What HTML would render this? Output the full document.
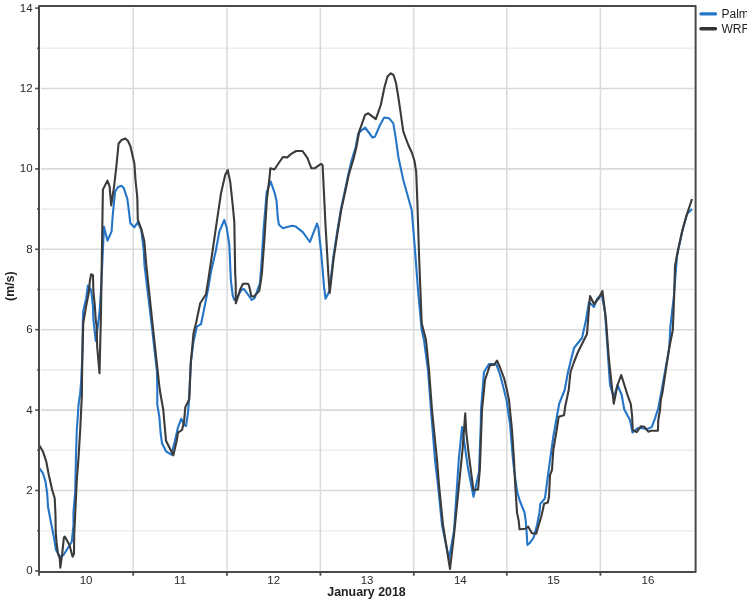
<!DOCTYPE html>
<html><head><meta charset="utf-8"><style>
html,body{margin:0;padding:0;background:#fff;width:747px;height:600px;overflow:hidden}
svg{display:block;filter:blur(0.3px)}
.lbl{font-family:"Liberation Sans",sans-serif;font-size:11.5px;fill:#2a2a2a}
.ttl{font-family:"Liberation Sans",sans-serif;font-size:12.4px;font-weight:bold;fill:#1f1f1f}
.leg{font-family:"Liberation Sans",sans-serif;font-size:12px;fill:#1f1f1f}
</style></head><body>
<svg width="747" height="600" viewBox="0 0 747 600">
<line x1="41" y1="530.70" x2="694.10" y2="530.70" stroke="#ededed" stroke-width="1.6"/>
<line x1="41" y1="490.50" x2="694.10" y2="490.50" stroke="#d9d9d9" stroke-width="1.6"/>
<line x1="41" y1="450.30" x2="694.10" y2="450.30" stroke="#ededed" stroke-width="1.6"/>
<line x1="41" y1="410.10" x2="694.10" y2="410.10" stroke="#d9d9d9" stroke-width="1.6"/>
<line x1="41" y1="369.90" x2="694.10" y2="369.90" stroke="#ededed" stroke-width="1.6"/>
<line x1="41" y1="329.70" x2="694.10" y2="329.70" stroke="#d9d9d9" stroke-width="1.6"/>
<line x1="41" y1="289.50" x2="694.10" y2="289.50" stroke="#ededed" stroke-width="1.6"/>
<line x1="41" y1="249.30" x2="694.10" y2="249.30" stroke="#d9d9d9" stroke-width="1.6"/>
<line x1="41" y1="209.10" x2="694.10" y2="209.10" stroke="#ededed" stroke-width="1.6"/>
<line x1="41" y1="168.90" x2="694.10" y2="168.90" stroke="#d9d9d9" stroke-width="1.6"/>
<line x1="41" y1="128.70" x2="694.10" y2="128.70" stroke="#ededed" stroke-width="1.6"/>
<line x1="41" y1="88.50" x2="694.10" y2="88.50" stroke="#d9d9d9" stroke-width="1.6"/>
<line x1="41" y1="48.30" x2="694.10" y2="48.30" stroke="#ededed" stroke-width="1.6"/>
<line x1="133.20" y1="7.60" x2="133.20" y2="570.40" stroke="#dadada" stroke-width="1.5"/>
<line x1="227.00" y1="7.60" x2="227.00" y2="570.40" stroke="#dadada" stroke-width="1.5"/>
<line x1="320.40" y1="7.60" x2="320.40" y2="570.40" stroke="#dadada" stroke-width="1.5"/>
<line x1="413.80" y1="7.60" x2="413.80" y2="570.40" stroke="#dadada" stroke-width="1.5"/>
<line x1="506.80" y1="7.60" x2="506.80" y2="570.40" stroke="#dadada" stroke-width="1.5"/>
<line x1="600.40" y1="7.60" x2="600.40" y2="570.40" stroke="#dadada" stroke-width="1.5"/>
<path d="M39.5,468.3 L43,473.3 L45.5,481.7 L47.2,493.3 L48,506.7 L50.5,520 L53.8,536.7 L56,550 L60.2,556.7 L63.5,555 L71.8,541.7 L73.5,525 L73.5,511.7 L75.2,491.7 L76,455 L76.8,430 L77.7,418 L78.5,405 L80.2,393.3 L81.2,380 L82.3,357.5 L82.9,320 L83.3,310.9 L84.7,304.4 L86.1,298.9 L87,292.5 L87.9,285.6 L91.1,289.8 L93,306.3 L93.4,320 L95.75,341 L98,324.5 L99.5,312.5 L100.2,302 L101,290 L104,226.75 L107.5,240.7 L111.6,231.3 L112.75,215 L113.9,203.3 L115.1,191.7 L118,187 L121.5,185.8 L123.8,188.2 L127.3,198.7 L129.1,212.7 L130.3,223.2 L134.3,227.3 L137.8,222 L141.3,230.2 L143.7,250 L144.5,265 L152.3,330 L157,372 L157.3,390 L157.3,404.7 L159.3,416.7 L160.7,434 L162,443.3 L166,451.3 L171.3,454.7 L174.7,442 L178,427.3 L181.3,418.7 L184,424.7 L186,426 L188,412.7 L188.7,404.7 L189.3,392.7 L190.8,362.7 L193.5,341.7 L196.8,326.7 L201,324.2 L204.3,308.3 L208.5,286.7 L211,271.7 L216,250 L219.3,231.7 L224.3,220 L226.8,228.3 L229.3,245 L230.9,280.7 L232.7,295.3 L234.3,300 L236.7,298 L241.3,290 L244,289 L250,297.3 L251.7,300 L254.7,298 L258,288.7 L260,283.3 L260.8,272 L261.4,264.7 L263.7,228.3 L266.7,192 L270.7,181.5 L274.8,193.3 L276.6,201.5 L277.7,216.6 L278.9,224.8 L283,228.3 L287.1,227.1 L292.3,225.7 L295.8,226.6 L302.8,232.1 L309.9,242 L317,223.6 L318.4,227.8 L321.25,253.3 L324.1,287.4 L325.5,298.7 L329.5,291 L333.2,258 L337,233 L340.8,210 L344.5,192.5 L348.2,175 L351.7,160 L355.7,147 L358.3,133.3 L365,127.5 L372.5,137.5 L375,136.7 L380,125 L384.2,117.5 L389.2,118.3 L393.3,123.3 L395.8,138.3 L398.3,156.7 L403.3,180 L411.7,210 L415,250 L418.3,293.3 L421.7,330 L424,340 L428,370 L431,410 L435,460 L438,485 L442,525 L449,559 L454,531 L458.8,459.2 L462.1,427.1 L464.3,442.7 L468,468.3 L473.5,496.75 L479,472 L480.8,424.3 L481,410 L484,372 L489,364 L494,364 L496.5,364.8 L500,374.5 L503,386 L506.5,400 L510,424 L513,460 L514,469 L517,491 L519.5,500 L524.5,512.5 L525.75,520.8 L526.6,531.7 L527.4,545 L529.5,543.3 L533.7,537.5 L537,525 L539.5,512.5 L540.3,503.75 L543.7,500 L545,498 L548,475 L548.7,470 L553.3,436.7 L557.3,414 L559.3,403.3 L564.7,390 L568,372 L574,348 L582,338 L586,320 L589,302 L594,307 L597,299 L601.6,294 L605,312 L610,385 L613.75,397.5 L617.5,385 L621.7,395 L624.2,409.2 L630,420 L632.5,432.5 L637.5,428.3 L641.7,427.9 L646.7,429.2 L651.7,427.1 L655,418.3 L658.3,408.3 L660.8,395 L663.1,382 L669.2,348.2 L670.4,326.4 L674,295 L677,256 L682,232 L687,214 L692,209" fill="none" stroke="#2575c8" stroke-width="2.1" stroke-linejoin="round"/>
<path d="M39.5,445.5 L43,451.7 L46.3,461.7 L48.8,475 L52.2,490 L54.7,498.3 L55.5,515 L55.7,531.9 L56.6,542.9 L58,553.9 L59.8,558.5 L60.3,567.7 L62.1,554.9 L63.9,537.4 L64.8,536.5 L69.4,544.8 L72.6,556.7 L74,553.9 L74.2,534.7 L75.3,512 L76.8,480 L78.5,458 L80.2,430 L81.8,396.7 L82.3,357.5 L83.3,322.8 L83.8,320 L86.1,306.3 L88.8,292.5 L89.8,281.5 L91.1,274.2 L93,275.1 L93.4,291.6 L94.8,305.4 L95.9,322 L96.5,324.5 L97.2,347 L99.5,373.2 L101,312.5 L101.8,260 L102.9,189.6 L107.4,180.6 L109.6,186.3 L111.2,205.4 L114.1,186.3 L116.4,166 L118.6,143.5 L121.5,140 L125.4,138.5 L128,141 L130.5,146.5 L134.4,163.75 L135.5,180 L137.3,197.5 L137.8,219.7 L141.3,229 L144.25,240.7 L146.3,265 L153.2,330 L157.8,372 L159.8,390 L163.3,410 L164.7,426 L166,440.7 L173.3,455.3 L176.7,440.7 L178,432.7 L182,430 L184,422 L185.3,407.3 L189.3,399.3 L190.8,362.7 L193.5,333.3 L196,323.3 L200.2,303.3 L206,294.2 L208.5,278.3 L212.7,250 L216.8,221.7 L221,193.3 L225.2,175 L227.7,170 L230.2,181.7 L232.7,205 L234.3,221.7 L235.2,273.3 L235.7,283.3 L235.8,303.3 L238,296.7 L240,290 L243,283.7 L248,283.7 L249.3,286.7 L251.3,296 L253.7,296.7 L259.3,290.7 L260.7,282 L262,272 L264.5,238 L266.9,199 L269.6,177 L270.3,168.3 L272,168.7 L274.4,169.5 L278.4,163.5 L282.9,157 L287.3,157.4 L291.3,153.8 L296.1,151 L302.5,151 L307.4,157.9 L311.4,168.3 L314.6,168.3 L321,163.9 L322.6,165.1 L325.5,225 L328.3,273.2 L329.7,293 L333.7,258 L337.5,233 L341.2,210 L345,192.5 L348.7,175 L353.5,159 L356.2,148 L359.2,131.7 L365,115 L368.3,113.3 L375.8,119.2 L380.8,105 L384.5,87 L387.5,76.5 L390.8,73.3 L393.5,75 L396,83 L398,95 L400,108.3 L403.3,131.7 L408.3,145 L412,153 L414.5,161 L416.2,172 L417.3,200 L419.1,256.7 L421.7,323.3 L426,340 L429,370 L432,410 L437,460 L439,485 L443,525 L450,569 L454,535 L458,495 L462.5,450 L465.25,413.3 L466.2,431.7 L468.9,455.5 L473.5,490.3 L478.1,489.4 L479.9,468.3 L482,410 L485,380 L490,365 L494,365 L497,360.5 L500,367.5 L504,378 L506,386 L509,400 L512,430 L514,460 L515,481 L516.2,500 L517,512.5 L518.7,520.8 L519.5,529.2 L525.3,528.75 L528.25,526.7 L532,533.3 L536.2,533.75 L538.7,525 L541.2,516.7 L542.8,510 L544.1,503.75 L547.8,502.5 L549,497 L550,475 L552,470 L553.3,450 L556.7,430 L558.7,416.7 L564,415.3 L565.3,406 L568.7,390 L570.5,372 L574,362 L578,352 L587,334 L589,308 L590,296 L594,304 L599,298 L602.4,291 L606,320 L608.75,357.5 L613.75,403.75 L617.5,385 L621.25,375 L627.5,395 L630.8,404.2 L632.1,415.8 L632.7,430 L636.7,432.1 L640.8,426.25 L644.2,426.7 L648.3,431.7 L650.8,430.8 L657.9,430.8 L658.3,420 L660,410 L660.8,400 L662.5,392 L665.5,372.3 L669.2,348.2 L672.8,330 L674,300 L675,266 L678,250 L683,228 L687,214 L692,199" fill="none" stroke="#3b3b3b" stroke-width="2.1" stroke-linejoin="round"/>
<path d="M39.0,6.1 L695.6,6.1 L695.6,571.9 L39.0,571.9 Z" fill="none" stroke="#4a4a4a" stroke-width="2" stroke-linejoin="round"/>
<line x1="35.2" y1="570.90" x2="39.0" y2="570.90" stroke="#4a4a4a" stroke-width="1.6"/>
<line x1="37.2" y1="530.70" x2="39.0" y2="530.70" stroke="#4a4a4a" stroke-width="1.6"/>
<line x1="35.2" y1="490.50" x2="39.0" y2="490.50" stroke="#4a4a4a" stroke-width="1.6"/>
<line x1="37.2" y1="450.30" x2="39.0" y2="450.30" stroke="#4a4a4a" stroke-width="1.6"/>
<line x1="35.2" y1="410.10" x2="39.0" y2="410.10" stroke="#4a4a4a" stroke-width="1.6"/>
<line x1="37.2" y1="369.90" x2="39.0" y2="369.90" stroke="#4a4a4a" stroke-width="1.6"/>
<line x1="35.2" y1="329.70" x2="39.0" y2="329.70" stroke="#4a4a4a" stroke-width="1.6"/>
<line x1="37.2" y1="289.50" x2="39.0" y2="289.50" stroke="#4a4a4a" stroke-width="1.6"/>
<line x1="35.2" y1="249.30" x2="39.0" y2="249.30" stroke="#4a4a4a" stroke-width="1.6"/>
<line x1="37.2" y1="209.10" x2="39.0" y2="209.10" stroke="#4a4a4a" stroke-width="1.6"/>
<line x1="35.2" y1="168.90" x2="39.0" y2="168.90" stroke="#4a4a4a" stroke-width="1.6"/>
<line x1="37.2" y1="128.70" x2="39.0" y2="128.70" stroke="#4a4a4a" stroke-width="1.6"/>
<line x1="35.2" y1="88.50" x2="39.0" y2="88.50" stroke="#4a4a4a" stroke-width="1.6"/>
<line x1="37.2" y1="48.30" x2="39.0" y2="48.30" stroke="#4a4a4a" stroke-width="1.6"/>
<line x1="35.2" y1="8.10" x2="39.0" y2="8.10" stroke="#4a4a4a" stroke-width="1.6"/>
<line x1="39.00" y1="571.9" x2="39.00" y2="575.70" stroke="#4a4a4a" stroke-width="1.8"/>
<line x1="133.20" y1="571.9" x2="133.20" y2="575.70" stroke="#4a4a4a" stroke-width="1.8"/>
<line x1="227.00" y1="571.9" x2="227.00" y2="575.70" stroke="#4a4a4a" stroke-width="1.8"/>
<line x1="320.40" y1="571.9" x2="320.40" y2="575.70" stroke="#4a4a4a" stroke-width="1.8"/>
<line x1="413.80" y1="571.9" x2="413.80" y2="575.70" stroke="#4a4a4a" stroke-width="1.8"/>
<line x1="506.80" y1="571.9" x2="506.80" y2="575.70" stroke="#4a4a4a" stroke-width="1.8"/>
<line x1="600.40" y1="571.9" x2="600.40" y2="575.70" stroke="#4a4a4a" stroke-width="1.8"/>
<text x="32.6" y="574.30" text-anchor="end" class="lbl">0</text>
<text x="32.6" y="493.90" text-anchor="end" class="lbl">2</text>
<text x="32.6" y="413.50" text-anchor="end" class="lbl">4</text>
<text x="32.6" y="333.10" text-anchor="end" class="lbl">6</text>
<text x="32.6" y="252.70" text-anchor="end" class="lbl">8</text>
<text x="32.6" y="172.30" text-anchor="end" class="lbl">10</text>
<text x="32.6" y="91.90" text-anchor="end" class="lbl">12</text>
<text x="32.6" y="11.50" text-anchor="end" class="lbl">14</text>
<text x="86.10" y="584.3" text-anchor="middle" class="lbl">10</text>
<text x="180.10" y="584.3" text-anchor="middle" class="lbl">11</text>
<text x="273.70" y="584.3" text-anchor="middle" class="lbl">12</text>
<text x="367.10" y="584.3" text-anchor="middle" class="lbl">13</text>
<text x="460.30" y="584.3" text-anchor="middle" class="lbl">14</text>
<text x="553.60" y="584.3" text-anchor="middle" class="lbl">15</text>
<text x="648.00" y="584.3" text-anchor="middle" class="lbl">16</text>
<text x="366.5" y="595.8" text-anchor="middle" class="ttl">January 2018</text>
<text transform="translate(14.1,286.2) rotate(-90)" text-anchor="middle" class="ttl">(m/s)</text>
<line x1="701" y1="13.9" x2="715.5" y2="13.9" stroke="#2575c8" stroke-width="3.2" stroke-linecap="round"/>
<line x1="701" y1="28.8" x2="715.5" y2="28.8" stroke="#333333" stroke-width="3.4" stroke-linecap="round"/>
<text x="721.5" y="17.8" class="leg">Palm</text>
<text x="721.5" y="32.5" class="leg">WRF</text>
</svg>
</body></html>
